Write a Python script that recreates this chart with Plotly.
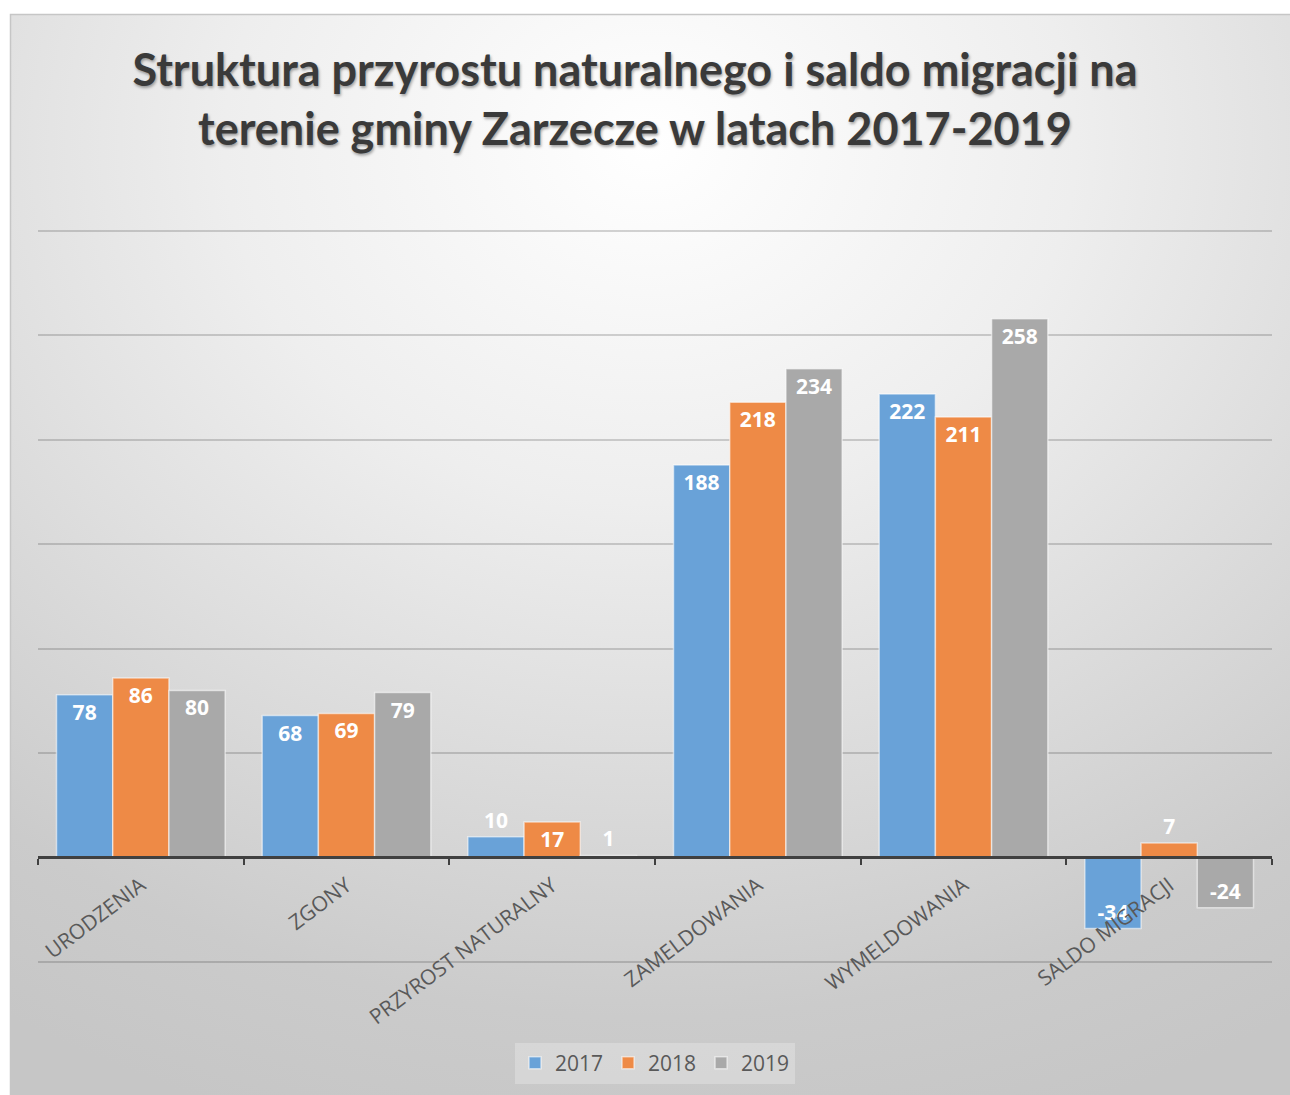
import base64
import plotly.graph_objects as go

categories = ["URODZENIA", "ZGONY", "PRZYROST NATURALNY", "ZAMELDOWANIA", "WYMELDOWANIA", "SALDO MIGRACJI"]
years = ["2017", "2018", "2019"]
v2017 = [78, 68, 10, 188, 222, -34]
v2018 = [86, 69, 17, 218, 211, 7]
v2019 = [80, 79, 1, 234, 258, -24]
series = [v2017, v2018, v2019]
colors = ["#69a2d8", "#ee8a46", "#a9a9a9"]

W, H = 1290, 1095

# background radial gradient as svg image
svg = (
    '<svg xmlns="http://www.w3.org/2000/svg" width="1280" height="1081" preserveAspectRatio="none">'
    '<defs><radialGradient id="g" cx="50%" cy="12%" r="95%" fx="50%" fy="12%">'
    '<stop offset="0" stop-color="#ffffff"/>'
    '<stop offset="0.35" stop-color="#eeeeee"/>'
    '<stop offset="0.85" stop-color="#cbcbcb"/>'
    '<stop offset="1" stop-color="#c6c6c6"/>'
    '</radialGradient></defs>'
    '<rect x="0" y="0" width="1280" height="1081" fill="url(#g)"/></svg>'
)
src = "data:image/svg+xml;base64," + base64.b64encode(svg.encode()).decode()

def small(v):
    return abs(v) < 15

fig = go.Figure()
for name, vals, col in zip(years, series, colors):
    fig.add_trace(go.Bar(
        x=categories, y=vals, name=name,
        marker=dict(color=col, line=dict(color="rgba(255,255,255,0.55)", width=1.5)),
        text=[str(v) for v in vals],
        textposition=["outside" if small(v) else "inside" for v in vals],
        insidetextanchor="end",
        textangle=0,
        constraintext="none",
        cliponaxis=False,
        textfont=dict(family="Open Sans", size=21, color="white", weight="bold"),
        outsidetextfont=dict(family="Open Sans", size=21, color="white", weight="bold"),
    ))

y_top, y_bot, y_zero = 231, 962, 857
pad = 2.0
pxu = (y_bot - y_top) / 350.0
grid_col = "rgba(60,60,60,0.22)"
fig.update_layout(
    width=W, height=H,
    margin=dict(l=0, r=0, t=0, b=0),
    paper_bgcolor="white",
    plot_bgcolor="rgba(0,0,0,0)",
    barmode="group", bargap=0.18, bargroupgap=0.0,
    title=dict(
        text="Struktura przyrostu naturalnego i saldo migracji na<br>terenie gminy Zarzecze w latach 2017-2019",
        x=635 / W, xanchor="center", y=1 - 86 / H, yanchor="top",
        font=dict(family="Lato", size=45, color="#3a3a3a", weight="bold",
                  shadow="1px 2px 3px rgba(0,0,0,0.35)"),
    ),
    xaxis=dict(
        domain=[38 / W, 1272 / W],
        anchor="free", position=1 - y_zero / H,
        showline=True, linecolor="#404040", linewidth=3,
        ticks="outside", tickson="boundaries", ticklen=6, tickwidth=2, tickcolor="#404040",
        tickangle=-37, ticklabelstandoff=6,
        tickfont=dict(family="Open Sans", size=21, color="#595959"),
        showgrid=False,
    ),
    yaxis=dict(
        domain=[1 - (y_bot + pad * pxu) / H, 1 - (y_top - pad * pxu) / H],
        range=[-50 - pad, 300 + pad], dtick=50, tick0=0,
        showticklabels=False, zeroline=False,
        showgrid=True, gridcolor=grid_col, gridwidth=2,
    ),
    legend=dict(
        orientation="h", x=655 / W, xanchor="center", y=1 - 1063 / H, yanchor="middle",
        bgcolor="rgba(255,255,255,0.25)",
        font=dict(family="Open Sans", size=21, color="#595959"),
        itemwidth=30, traceorder="normal",
    ),
    images=[dict(
        source=src, xref="paper", yref="paper",
        x=10 / W, y=1 - 14 / H, sizex=1280 / W, sizey=1081 / H,
        xanchor="left", yanchor="top", sizing="stretch", layer="below",
    )],
    shapes=[dict(
        type="rect", xref="paper", yref="paper",
        x0=10.5 / W, x1=1.01, y0=-0.01, y1=1 - 14.5 / H,
        line=dict(color="#c6c6c6", width=1.5), layer="below",
    )],
)

fig.write_html("out.html", config={"displayModeBar": False},
               post_script="document.body.style.margin='0px';")
